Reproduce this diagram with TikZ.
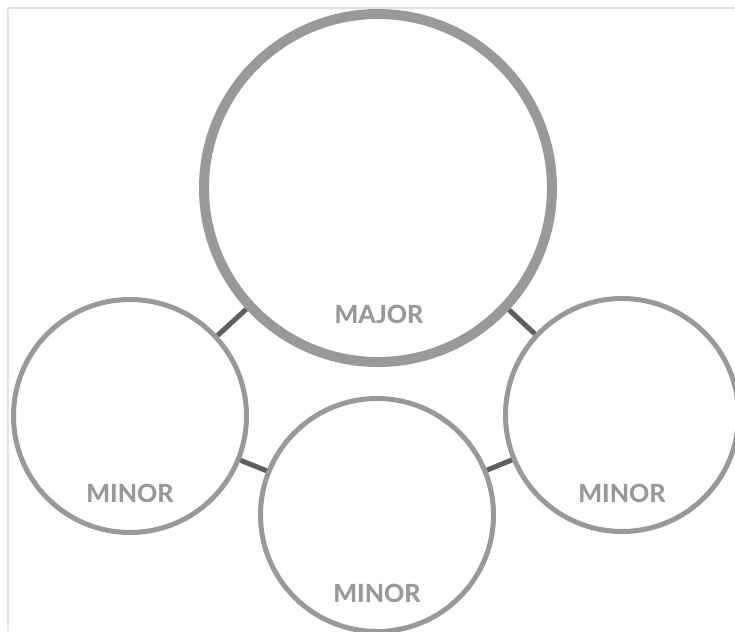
\documentclass[tikz,border=0pt]{standalone}
\usepackage{fontspec}
\setmainfont{Lato}
\newfontfamily\lblfont{Lato Heavy}
\begin{document}
\begin{tikzpicture}[x=1pt,y=-1pt,
  majorc/.style={circle,draw=ringgray,line width=10pt,minimum size=348pt,inner sep=0pt},
  minorc/.style={circle,draw=ringgray,line width=5pt,minimum size=233pt,inner sep=0pt},
  link/.style={draw=linkgray,line width=5pt},
  lbl/.style={text=ringgray,font=\lblfont\fontsize{25}{25}\selectfont,inner sep=0pt,anchor=base}]
\definecolor{ringgray}{HTML}{999999}
\definecolor{linkgray}{HTML}{5E5E5E}
\definecolor{framegray}{HTML}{E3E3E3}
\useasboundingbox (0,0) rectangle (735,631);
\begin{scope}
\clip (0,0) rectangle (735,631);
\draw[framegray,line width=1.2pt] (8,631) -- (8,8) -- (735,8);
\node[majorc] (maj) at (378,188) {};
\node[minorc] (lft) at (130,416) {};
\node[minorc] (bot) at (377,515) {};
\node[minorc] (rgt) at (622,415) {};
\draw[link] (maj) -- (lft);
\draw[link] (maj) -- (rgt);
\draw[link] (bot) -- (lft);
\draw[link] (bot) -- (rgt);
\node[lbl] (tmaj) at (379,323) {MAJOR};
\node[lbl] (tlft) at (130,502) {MINOR};
\node[lbl] (tbot) at (377,602) {MINOR};
\node[lbl] (trgt) at (622,502) {MINOR};
\end{scope}
\end{tikzpicture}
\end{document}
